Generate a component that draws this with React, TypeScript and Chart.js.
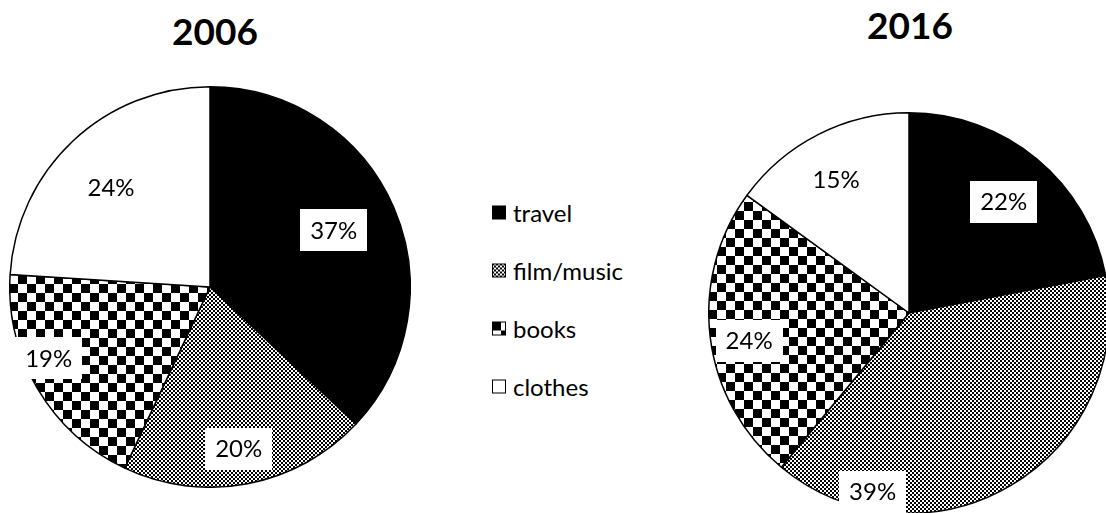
import React, { useEffect, useRef } from "react";
import { Chart, registerables } from "chart.js";

Chart.register(...registerables);

const categories = ["travel", "film/music", "books", "clothes"];
const values2006 = [37, 20, 19, 24];
const values2016 = [22, 39, 24, 15];
const titles = ["2006", "2016"];

const FONT = "Lato, 'Open Sans', sans-serif";

function makePatternCanvas(kind: string): HTMLCanvasElement {
  const c = document.createElement("canvas");
  const cell = kind === "film" ? 2 : 9;
  c.width = cell * 2;
  c.height = cell * 2;
  const g = c.getContext("2d")!;
  g.fillStyle = "#fff";
  g.fillRect(0, 0, c.width, c.height);
  g.fillStyle = "#000";
  g.fillRect(0, 0, cell, cell);
  g.fillRect(cell, cell, cell, cell);
  return c;
}

function fills(ctx: CanvasRenderingContext2D): (string | CanvasPattern)[] {
  const film = ctx.createPattern(makePatternCanvas("film"), "repeat")!;
  const books = ctx.createPattern(makePatternCanvas("books"), "repeat")!;
  return ["#000", film, books, "#fff"];
}

const boxLabels = {
  id: "boxLabels",
  afterDatasetsDraw(chart: any, _args: any, opts: any) {
    const meta = chart.getDatasetMeta(0);
    const ctx = chart.ctx as CanvasRenderingContext2D;
    const data = chart.data.datasets[0].data as number[];
    ctx.save();
    ctx.font = `24px ${FONT}`;
    ctx.textAlign = "center";
    ctx.textBaseline = "middle";
    meta.data.forEach((arc: any, i: number) => {
      const p = arc.getProps(["x", "y", "startAngle", "endAngle", "outerRadius"], true);
      const a = p.startAngle + (p.endAngle - p.startAngle) * opts.along[i];
      const r = p.outerRadius * opts.radial[i];
      const px = p.x + Math.cos(a) * r;
      const py = p.y + Math.sin(a) * r;
      const text = data[i] + "%";
      const tw = ctx.measureText(text).width;
      const w = tw + 20;
      const h = 42;
      ctx.fillStyle = "#fff";
      ctx.fillRect(Math.round(px - w / 2), Math.round(py - h / 2), Math.round(w), h);
      ctx.fillStyle = "#000";
      ctx.fillText(text, px, py + 1);
    });
    ctx.restore();
  },
};

function makePie(canvas: HTMLCanvasElement, values: number[], along: number[], radial: number[]) {
  const ctx = canvas.getContext("2d")!;
  return new Chart(canvas, {
    type: "pie",
    data: {
      labels: categories,
      datasets: [
        {
          data: values,
          backgroundColor: fills(ctx) as any,
          borderColor: "#000",
          borderWidth: 1.5,
        },
      ],
    },
    options: {
      animation: false,
      responsive: false,
      maintainAspectRatio: false,
      events: [],
      layout: { padding: 0 },
      plugins: {
        legend: { display: false },
        tooltip: { enabled: false },
        title: { display: false },
        boxLabels: { along, radial },
      } as any,
    },
    plugins: [boxLabels],
  });
}

function Swatch({ index }: { index: number }) {
  const ref = useRef<HTMLCanvasElement>(null);
  useEffect(() => {
    const c = ref.current!;
    const g = c.getContext("2d")!;
    g.clearRect(0, 0, c.width, c.height);
    const f = fills(g)[index];
    g.fillStyle = f as any;
    g.fillRect(0, 0, 14, 14);
    g.strokeStyle = "#000";
    g.lineWidth = 1;
    g.strokeRect(0.5, 0.5, 13, 13);
  }, [index]);
  return <canvas ref={ref} width={14} height={14} style={{ width: 14, height: 14, display: "block" }} />;
}

export default function App() {
  const leftRef = useRef<HTMLCanvasElement>(null);
  const rightRef = useRef<HTMLCanvasElement>(null);

  useEffect(() => {
    const c1 = makePie(leftRef.current!, values2006, [0.49, 0.51, 0.6, 0.48], [0.68, 0.82, 0.88, 0.7]);
    const c2 = makePie(rightRef.current!, values2016, [0.51, 0.8, 0.47, 0.47], [0.73, 0.91, 0.81, 0.76]);
    return () => {
      c1.destroy();
      c2.destroy();
    };
  }, []);

  const titleStyle: React.CSSProperties = {
    position: "absolute",
    font: `bold 37px ${FONT}`,
    color: "#000",
    transform: "translate(-50%, -50%)",
    whiteSpace: "nowrap",
    lineHeight: 1,
  };

  const legendTops = [212, 270, 328, 386];

  return (
    <div
      style={{
        position: "absolute",
        left: 0,
        top: 0,
        width: 1106,
        height: 513,
        overflow: "hidden",
        background: "#fff",
      }}
    >
      <div style={{ ...titleStyle, left: 215, top: 30 }}>{titles[0]}</div>
      <div style={{ ...titleStyle, left: 910, top: 24 }}>{titles[1]}</div>
      <canvas
        ref={leftRef}
        width={402}
        height={402}
        style={{ position: "absolute", left: 9, top: 86, width: 402, height: 402 }}
      />
      <canvas
        ref={rightRef}
        width={402}
        height={402}
        style={{ position: "absolute", left: 708, top: 112, width: 402, height: 402 }}
      />
      {categories.map((c, i) => (
        <div
          key={c}
          style={{
            position: "absolute",
            left: 492,
            top: legendTops[i],
            transform: "translateY(-50%)",
            display: "flex",
            alignItems: "center",
            gap: 7,
            font: `24px ${FONT}`,
            color: "#000",
            whiteSpace: "nowrap",
          }}
        >
          <Swatch index={i} />
          <span>{c}</span>
        </div>
      ))}
    </div>
  );
}
